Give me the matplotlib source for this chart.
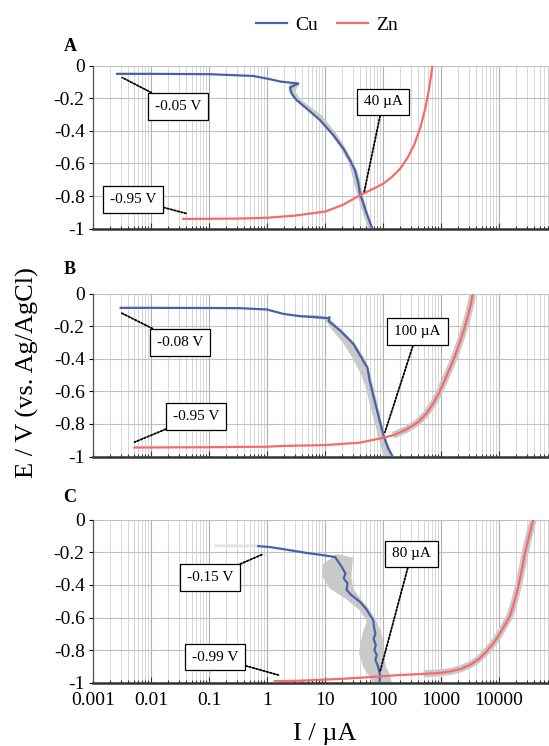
import matplotlib
matplotlib.use("Agg")
import matplotlib.pyplot as plt
from matplotlib.lines import Line2D
from matplotlib.ticker import LogLocator, NullFormatter, FixedLocator

plt.rcParams['font.family'] = ['Liberation Serif', 'DejaVu Serif']
plt.rcParams['axes.unicode_minus'] = False

cu_color = '#4862a6'
zn_color = '#f66a6a'
band_color = '#c9c9c9'

# ---- panel A ----
cuA_I = [0.0026, 0.01, 0.1, 0.58, 1.13, 1.68, 2.66, 3.47, 2.49, 2.66, 3.25, 4.83, 8.2, 13.9, 20.7, 27, 32.9, 37.6, 40.1, 45.8, 52.3, 63.8, 66]
cuA_E = [-0.05, -0.05, -0.052, -0.063, -0.083, -0.097, -0.105, -0.109, -0.134, -0.171, -0.212, -0.263, -0.334, -0.426, -0.508, -0.580, -0.641, -0.723, -0.784, -0.845, -0.907, -0.989, -1.0]
znA_I = [0.036, 0.3, 1, 3, 10, 20, 40, 60, 100, 140, 200, 270, 350, 440, 530, 610, 670, 711]
znA_E = [-0.94, -0.938, -0.933, -0.92, -0.895, -0.855, -0.795, -0.765, -0.725, -0.685, -0.63, -0.56, -0.48, -0.38, -0.27, -0.16, -0.07, 0]
bandA_E = [-0.11, -0.15, -0.2, -0.3, -0.4, -0.5, -0.58, -0.65, -0.72, -0.8, -0.9, -1.0]
bandA_lo = [2.4, 2.3, 2.8, 6.5, 11.5, 18, 24, 28, 31, 36, 44, 55]
bandA_hi = [3.6, 3.0, 3.6, 8.5, 14.5, 22, 29, 36, 41, 45, 54, 66]

# ---- panel B ----
cuB_I = [0.003, 0.01, 0.1, 0.34, 0.99, 1.91, 3.7, 11.4, 12.0, 11.6, 18.2, 30.8, 49, 53.7, 59.7, 72.8, 88.8, 104, 124, 147]
cuB_E = [-0.088, -0.088, -0.089, -0.090, -0.098, -0.125, -0.139, -0.151, -0.145, -0.17, -0.227, -0.309, -0.431, -0.452, -0.544, -0.667, -0.790, -0.881, -0.953, -1.0]
znB_I = [0.0052, 0.1, 1.0, 2.0, 10, 40, 100, 150, 250, 400, 550, 750, 950, 1200, 1500, 1800, 2200, 2600, 3000, 3300, 3520]
znB_E = [-0.945, -0.943, -0.94, -0.935, -0.93, -0.915, -0.885, -0.87, -0.835, -0.79, -0.74, -0.67, -0.6, -0.52, -0.44, -0.37, -0.28, -0.2, -0.12, -0.06, 0]
bandB_E = [-0.13, -0.16, -0.22, -0.3, -0.4, -0.5, -0.6, -0.7, -0.8, -0.9, -1.0]
bandB_lo = [3.0, 10, 13, 20, 30, 42, 52, 60, 72, 85, 100]
bandB_hi = [8, 12.5, 19, 32, 48, 60, 70, 82, 95, 115, 150]

# ---- panel C ----
cuC_I = [0.71, 1.13, 2.18, 4.83, 9.4, 14.9, 17.0, 19.5, 22.5, 21.0, 24.5, 23.5, 28, 40.1, 52, 59.7, 68, 70, 74, 69, 75, 71, 78, 74, 82, 88.8, 87]
cuC_E = [-0.162, -0.168, -0.184, -0.204, -0.218, -0.229, -0.259, -0.29, -0.33, -0.36, -0.39, -0.43, -0.46, -0.504, -0.55, -0.586, -0.616, -0.66, -0.70, -0.73, -0.77, -0.80, -0.83, -0.86, -0.90, -0.953, -1.0]
cuC_faint_I = [0.13, 0.71]
cuC_faint_E = [-0.16, -0.161]
znC_I = [1.37, 3.7, 20, 52, 196, 500, 961, 1500, 2200, 3200, 4500, 6000, 7500, 9120, 12000, 15500, 18500, 21500, 25000, 28000, 33000, 39000]
znC_E = [-0.991, -0.988, -0.976, -0.967, -0.953, -0.946, -0.94, -0.93, -0.915, -0.89, -0.855, -0.81, -0.77, -0.73, -0.66, -0.59, -0.5, -0.41, -0.3, -0.208, -0.1, 0]
bandC_E = [-0.21, -0.23, -0.27, -0.35, -0.42, -0.48, -0.55, -0.62, -0.68, -0.75, -0.82, -0.9, -0.95, -1.0]
bandC_lo = [15, 13, 9, 9, 12, 22, 38, 52, 45, 40, 38, 45, 55, 65]
bandC_hi = [17, 30, 29, 28, 30, 40, 58, 75, 90, 100, 100, 110, 130, 140]

# annotations: text, point (I, E), box centre (I, E)
annA = [("-0.05 V", (0.0032, -0.073), (0.0292, -0.25)),
        ("-0.95 V", (0.04, -0.906), (0.0049, -0.82)),
        ("40 µA", (47, -0.78), (100, -0.222))]
annB = [("-0.08 V", (0.003, -0.117), (0.0316, -0.30)),
        ("-0.95 V", (0.0052, -0.912), (0.06, -0.755)),
        ("100 µA", (108, -0.851), (393, -0.235))]
annC = [("-0.15 V", (0.82, -0.214), (0.103, -0.353)),
        ("-0.99 V", (1.57, -0.953), (0.127, -0.843)),
        ("80 µA", (88.7, -0.933), (310, -0.21))]

x_ticks = [0.001, 0.01, 0.1, 1, 10, 100, 1000, 10000]
x_labels = ['0.001', '0.01', '0.1', '1', '10', '100', '1000', '10000']
y_ticks = [0, -0.2, -0.4, -0.6, -0.8, -1]
y_labels = ['0', '-0.2', '-0.4', '-0.6', '-0.8', '-1']

fig = plt.figure(figsize=(5.49, 7.46), dpi=100)

left = 93 / 549
width = 522 / 549
height = 163 / 746
bottoms = [1 - 228.7 / 746, 1 - 456.5 / 746, 1 - 682.7 / 746]

panels = [
    ('A', cuA_I, cuA_E, znA_I, znA_E, bandA_E, bandA_lo, bandA_hi, annA, None),
    ('B', cuB_I, cuB_E, znB_I, znB_E, bandB_E, bandB_lo, bandB_hi, annB, 7),
    ('C', cuC_I, cuC_E, znC_I, znC_E, bandC_E, bandC_lo, bandC_hi, annC, 5),
]

for i, (lab, cI, cE, zI, zE, bE, blo, bhi, ann, zk) in enumerate(panels):
    ax = fig.add_axes([left, bottoms[i], width, height])
    ax.set_xscale('log')
    ax.set_xlim(1e-3, 1e6)
    ax.set_ylim(-1, 0)

    ax.fill_betweenx(bE, blo, bhi, color=band_color, lw=0, zorder=2)
    if zk is not None:
        ax.plot(zI[zk:], zE[zk:], color=band_color, lw=5, solid_capstyle='butt', zorder=2)
    if lab == 'C':
        ax.plot(cuC_faint_I, cuC_faint_E, color='#e4e4e4', lw=2, zorder=2)
    ax.plot(cI, cE, color=cu_color, lw=1.6, zorder=3)
    ax.plot(zI, zE, color=zn_color, lw=1.6, zorder=3)

    ax.xaxis.set_major_locator(FixedLocator(x_ticks))
    ax.xaxis.set_minor_locator(LogLocator(base=10, subs=range(2, 10), numticks=20))
    ax.xaxis.set_minor_formatter(NullFormatter())
    if i == 2:
        ax.set_xticklabels(x_labels)
    else:
        ax.set_xticklabels([])
    ax.set_yticks(y_ticks)
    ax.set_yticklabels(y_labels)
    ax.tick_params(axis='x', which='major', direction='in', length=4, width=0.8, labelsize=14, pad=7, color='#333333')
    ax.tick_params(axis='x', which='minor', direction='in', length=2.5, width=0.8, color='#333333')
    ax.tick_params(axis='y', which='major', direction='out', length=3, width=0.8, labelsize=14, pad=3)

    ax.grid(True, which='major', axis='x', color='#b0b0b0', lw=0.8)
    ax.grid(True, which='minor', axis='x', color='#d6d6d6', lw=0.7)
    ax.grid(True, which='major', axis='y', color='#c0c0c0', lw=0.8)
    ax.set_axisbelow(True)

    ax.spines['top'].set_visible(False)
    ax.spines['right'].set_visible(False)
    ax.spines['bottom'].set_color('#333333')
    ax.spines['bottom'].set_linewidth(1.8)
    ax.spines['left'].set_color('#555555')
    ax.spines['left'].set_linewidth(0.9)

    for txt, pt, tp in ann:
        ax.annotate(txt, xy=pt, xytext=tp, ha='center', va='center', fontsize=11,
                    bbox=dict(boxstyle='square,pad=0.45', fc='white', ec='black', lw=0.9),
                    arrowprops=dict(arrowstyle='-', linestyle=(0, (1, 1)), lw=1.3,
                                    color='black', shrinkA=0, shrinkB=0),
                    zorder=5)

    fig.text(70 / 549, 1 - [46.7, 270, 498][i] / 746, lab, fontsize=13,
             fontweight='bold', ha='center', va='center')

fig.text(27.5 / 549, 1 - 373 / 746, 'E / V (vs. Ag/AgCl)', rotation=90,
         fontsize=19, ha='center', va='center')
fig.text(325 / 549, 1 - 734 / 746, 'I / µA', fontsize=19, ha='center', va='center')

handles = [Line2D([], [], color=cu_color, lw=1.6), Line2D([], [], color=zn_color, lw=1.6)]
fig.legend(handles, ['Cu', 'Zn'], loc='center', bbox_to_anchor=(327 / 549, 1 - 25 / 746),
           ncol=2, frameon=False, fontsize=14, handlelength=1.6, handletextpad=0.4,
           columnspacing=1.0)

fig.savefig('out.png', dpi=100)
